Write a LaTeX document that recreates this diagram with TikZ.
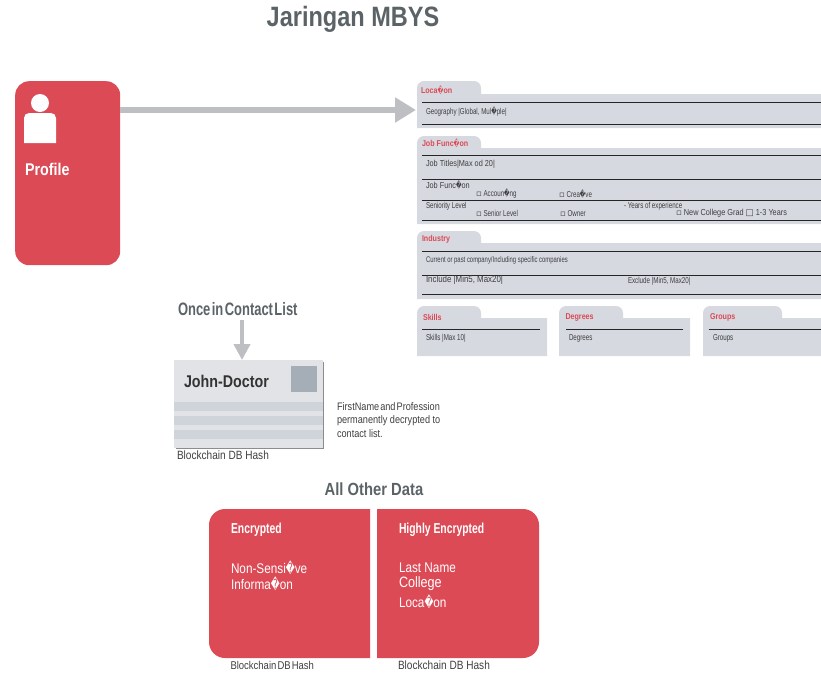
\documentclass[tikz,border=0pt]{standalone}
\usepackage{fontspec}
\setmainfont{Liberation Sans}
\newfontfamily\nar[FakeStretch=0.84]{Liberation Sans}
\newfontfamily\vnar[FakeStretch=0.72]{Liberation Sans}
\newfontfamily\djv[FakeStretch=0.62]{DejaVu Sans}
\newfontfamily\djw{DejaVu Sans}
\usetikzlibrary{arrows.meta}
\definecolor{brand}{HTML}{DC4A56}
\definecolor{panelc}{HTML}{D6D9E0}
\definecolor{greyt}{HTML}{5B6367}
\definecolor{inkt}{HTML}{3F3F42}
\definecolor{arrowc}{HTML}{BDBFC3}
\definecolor{cardc}{HTML}{E1E3E7}
\definecolor{stripec}{HTML}{CFD3DA}
\definecolor{squarec}{HTML}{A5ADB7}
\newcommand{\rp}{{\djv\symbol{"FFFD}}}
\newcommand{\bx}{{\djw\symbol{"25AB}}}
\newcommand{\bxb}{{\djw\symbol{"25A1}}}
\newcommand{\fsz}[1]{\fontsize{#1}{#1}\selectfont}
\newcommand{\panelshape}[6]{% x1, tabtop, tabright, bodytop, x2, bottom
  \fill[panelc] (#1,#6) [rounded corners=7] -- (#1,#2) -- (#3,#2) [sharp corners] -- (#3,#4) -- (#5,#4) -- (#5,#6) -- cycle;}
\tikzset{
  lbl/.style={anchor=west,inner sep=0pt,outer sep=0pt,text=inkt},
  tablbl/.style={lbl,text=brand,font=\nar\bfseries\fsz{8.5}},
  small/.style={lbl,font=\nar\fsz{8.7}},
  mini/.style={lbl,font=\vnar\fsz{8.6}},
  rule/.style={draw=black!85,line width=0.9pt},
  block/.style={draw=arrowc,-{Triangle[length=21pt,width=24pt]},line width=6pt},
  wtext/.style={lbl,text=white},
  hash/.style={lbl,font=\nar\fsz{12}},
  note/.style={lbl,font=\nar\fsz{10.9}}
}
\begin{document}
\begin{tikzpicture}[x=1pt,y=-1pt]
\useasboundingbox (0,0) rectangle (821,672);
\node[anchor=center,inner sep=0pt,text=greyt,font=\nar\bfseries\fsz{28}] (title) at (353,19) {Jaringan MBYS};
% profile
\node[draw=none,fill=brand,rounded corners=14pt,minimum width=105pt,minimum height=184pt,inner sep=0pt,anchor=north west] (profile) at (15,81) {};
\fill[white] (40,103) circle (9);
\fill[white] (24,143) [rounded corners=5] -- (24,113) -- (56,113) [sharp corners] -- (56,143) -- cycle;
\node[wtext,font=\nar\bfseries\fsz{17}] (profilet) at (25,169) {Profile};
% panels
\panelshape{417}{81}{481}{94}{821}{128}
\panelshape{417}{136}{481}{148}{821}{224}
\panelshape{417}{231}{481}{243}{821}{299}
\panelshape{417}{306}{481}{318}{547}{356}
\panelshape{559}{306}{623}{318}{690}{356}
\panelshape{703}{306}{782}{318}{821}{356}
\coordinate (locin) at (416,110);
\draw[block] (profile.east |- locin) -- (locin);
\foreach \y in {102,124,155,179,200,220,251,275,294}{\draw[rule] (422,\y) -- (821,\y);}
\draw[rule] (422,329) -- (540,329);
\draw[rule] (566,329) -- (683,329);
\draw[rule] (709,329) -- (821,329);
\node[tablbl] (t1) at (421,90) {Loca\rp{}on};
\node[tablbl] (t2) at (422,143) {Job Func\rp{}on};
\node[tablbl] (t3) at (422,239) {Industry};
\node[tablbl] (t4) at (423,317) {Skills};
\node[tablbl] (t5) at (565.5,317) {Degrees};
\node[tablbl] (t6) at (710,317) {Groups};
\node[mini] (a1) at (426,111.5) {Geography |Global, Mul\rp{}ple|};
\node[small] (a2) at (426,164.5) {Job Titles|Max od 20|};
\node[small] (a3) at (426,184.5) {Job Func\rp{}on};
\node[mini] (a4) at (476,193.5) {\bx\ Accoun\rp{}ng};
\node[mini] (a5) at (559,193.5) {\bx\ Crea\rp{}ve};
\node[mini] (a6) at (426,206) {Seniority Level};
\node[mini] (a7) at (624,206) {- Years of experience};
\node[mini] (a8) at (476,213.5) {\bx\ Senior Level};
\node[mini] (a9) at (560,213.5) {\bx\ Owner};
\node[small] (a10) at (676,213.5) {\bx\ New College Grad \bxb\ 1-3 Years};
\node[lbl,font=\vnar\fsz{8.2}] (a11) at (426,260) {Current or past company/Including specific companies};
\node[lbl,font=\nar\fsz{9.4}] (a12) at (426,280.5) {Include |Min5, Max20|};
\node[mini] (a13) at (628,281.5) {Exclude |Min5, Max20|};
\node[mini] (a14) at (426,338.5) {Skills |Max 10|};
\node[mini] (a15) at (569,338.5) {Degrees};
\node[mini] (a16) at (713,338.5) {Groups};
% contact
\node[lbl,text=greyt,font=\vnar\bfseries\fsz{18}] (once) at (178,309) {\spaceskip=0.08em Once in Contact List};
\fill[black!45] (175.5,361.5) rectangle (324,449);
\node[fill=cardc,minimum width=149pt,minimum height=88pt,inner sep=0pt,anchor=north west] (card) at (174,360) {};
\fill[stripec] (174,402) rectangle (323,411);
\fill[stripec] (174,416) rectangle (323,425);
\fill[stripec] (174,430) rectangle (323,439);
\fill[squarec] (291,366) rectangle (317,392);
\node[lbl,font=\nar\bfseries\fsz{17},text=black!80] (john) at (184,381) {John-Doctor};
\coordinate (oncea) at (242,320);
\draw[draw=arrowc,line width=4.5pt,-{Triangle[length=16pt,width=16pt]}] (oncea) -- (oncea |- card.north);
\node[note] (note1) at (337,407) {\spaceskip=0.1em FirstName and Profession};
\node[note] (note2) at (337,421) {permanently decrypted to};
\node[note] (note3) at (337,434) {contact list.};
\node[hash] (h1) at (177,455) {Blockchain DB Hash};
% other data
\node[anchor=center,inner sep=0pt,text=greyt,font=\nar\bfseries\fsz{17.6}] (other) at (374,489) {All Other Data};
\fill[brand] (370,658) [rounded corners=16] -- (209,658) -- (209,509) [sharp corners] -- (370,509) -- cycle;
\fill[brand] (377,658) -- (377,509) [rounded corners=16] -- (539,509) -- (539,658) [sharp corners] -- (377,658) -- cycle;
\node[wtext,font=\vnar\bfseries\fsz{14.4}] (e1) at (231,530) {Encrypted};
\node[wtext,font=\vnar\bfseries\fsz{14.4}] (e4) at (399,530) {Highly Encrypted};
\node[wtext,font=\nar\fsz{14}] (e2) at (231,567.5) {Non-Sensi\rp{}ve};
\node[wtext,font=\nar\fsz{14}] (e3) at (231,583.5) {Informa\rp{}on};
\node[wtext,font=\nar\fsz{14}] (e5) at (399,567.5) {Last Name};
\node[wtext,font=\nar\fsz{15}] (e6) at (399,583.5) {College};
\node[wtext,font=\nar\fsz{14}] (e7) at (399,601.5) {Loca\rp{}on};
\node[hash,font=\nar\fsz{11.3}] (h2) at (230.5,665.5) {\spaceskip=0.1em Blockchain DB Hash};
\node[hash] (h3) at (398,665.5) {Blockchain DB Hash};
\end{tikzpicture}
\end{document}
